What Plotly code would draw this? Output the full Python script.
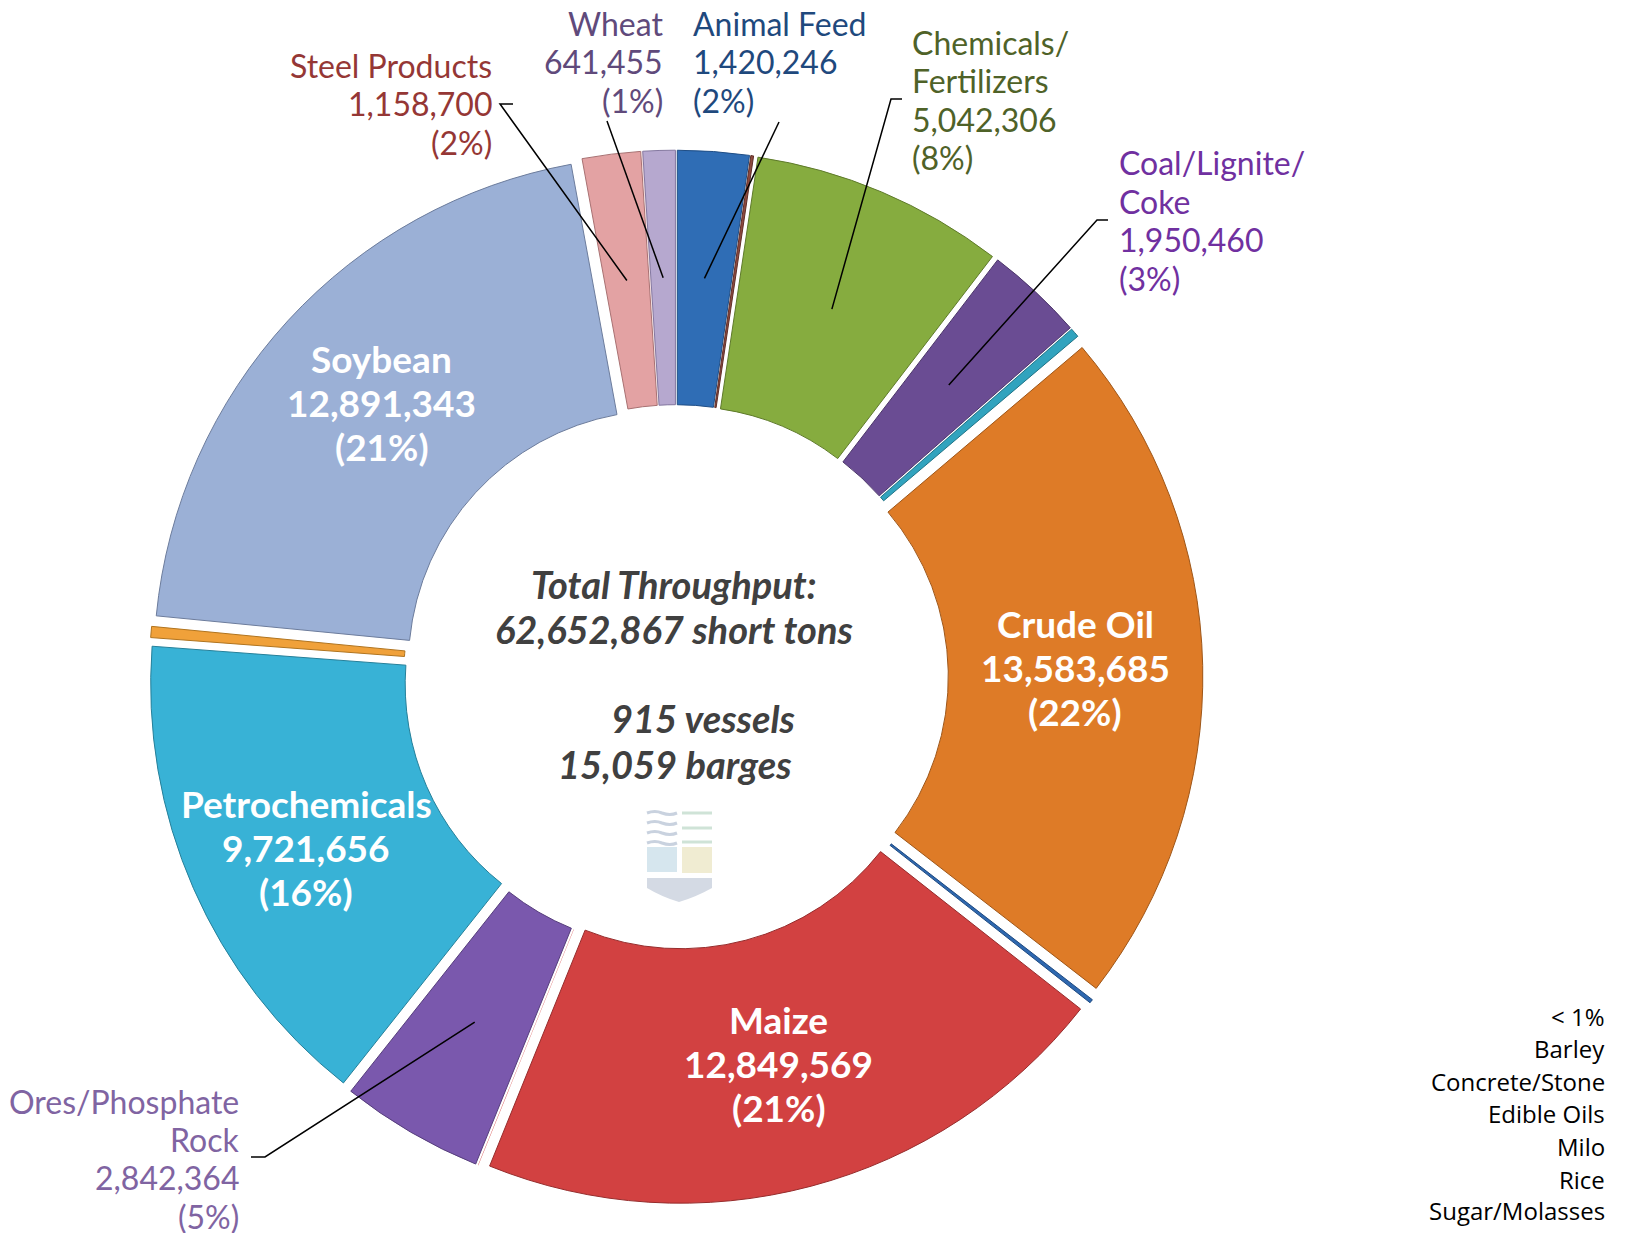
import math
import plotly.graph_objects as go

# ---------------- data ----------------
categories = ["Animal Feed", "Barley", "Chemicals/Fertilizers", "Coal/Lignite/Coke",
              "Concrete/Stone", "Crude Oil", "Edible Oils", "Maize", "Milo",
              "Ores/Phosphate Rock", "Petrochemicals", "Rice", "Soybean",
              "Steel Products", "Sugar/Molasses", "Wheat"]
values = [1420246, 55000, 5042306, 1950460, 185000, 13583685, 75000, 12849569, 8000,
          2842364, 9721656, 220083, 12891343, 1158700, 8000, 641455]
slice_colors = ["#2F6DB5", "#8E4A3F", "#86AC3F", "#6A4C93", "#31A3BE", "#DE7B27",
                "#2E68B0", "#D24141", "#D24141", "#7A58AD", "#38B2D6", "#F0A13A",
                "#9BB0D6", "#E3A2A3", "#E3A2A3", "#B6A8CF"]
border_colors = ["#1F4E86", "#5E2E28", "#5E7A2A", "#4A3468", "#1F7386", "#9E5618",
                 "#1F4A80", "#962C2C", "#962C2C", "#563E7C", "#26809A", "#B0741F",
                 "#6C7C9C", "#A87172", "#A87172", "#8478A0"]
border_widths = [1, 1, 1, 1, 1, 1, 1, 1, 0, 1, 1, 1, 1, 1, 0, 1]
inside_labels = ["Crude Oil", "Maize", "Petrochemicals", "Soybean"]
outside_labels = {
    "Steel Products": (["Steel Products"], "#953735"),
    "Wheat": (["Wheat"], "#604A7B"),
    "Animal Feed": (["Animal Feed"], "#1F497D"),
    "Chemicals/Fertilizers": (["Chemicals/", "Fertilizers"], "#4F6228"),
    "Coal/Lignite/Coke": (["Coal/Lignite/", "Coke"], "#7030A0"),
    "Ores/Phosphate Rock": (["Ores/Phosphate", "Rock"], "#8064A2"),
}
minor_list = ["< 1%", "Barley", "Concrete/Stone", "Edible Oils", "Milo", "Rice", "Sugar/Molasses"]
total_tons = 62652867
vessels = 915
barges = 15059

# ---------------- layout geometry (page pixels) ----------------
W, H = 1627, 1233
OFF = 8                      # page body margin offset
CX, CY = 676, 677
R = 509
PULL = 0.035
HOLE = 0.5
box = 2 * R * (1 + PULL)
dom_x = [(CX - OFF - box / 2) / W, (CX - OFF + box / 2) / W]
dom_y = [(H - (CY - OFF) - box / 2) / H, (H - (CY - OFF) + box / 2) / H]


def px(x, y):
    return (x - OFF) / W, 1 - (y - OFF) / H


def polar(angle_deg, rad):
    a = math.radians(angle_deg)
    return CX + rad * math.sin(a), CY - rad * math.cos(a)


tot = sum(values)
mid_angle = {}
acc = 0
for c, v in zip(categories, values):
    mid_angle[c] = (acc + v / 2) / tot * 360
    acc += v
label_r = R * PULL + R * (1 + HOLE) / 2

fig = go.Figure(go.Pie(
    labels=categories, values=values, sort=False, direction="clockwise", rotation=0,
    hole=HOLE, pull=[PULL] * len(values),
    marker=dict(colors=slice_colors, line=dict(color=border_colors, width=border_widths)),
    textinfo="none", hoverinfo="label+value+percent", showlegend=False,
    domain=dict(x=dom_x, y=dom_y),
))

annotations = []
shapes = []


def pct(c):
    return round(values[categories.index(c)] / total_tons * 100)


def val(c):
    return values[categories.index(c)]


def add_line(text, x, y, font, xanchor):
    xp, yp = px(x, y)
    annotations.append(dict(x=xp, y=yp, xref="paper", yref="paper", showarrow=False,
                            text=text, font=font, xanchor=xanchor, yanchor="middle"))


# inside labels (small placement nudges in px)
BIG_SP = 44
nudge = {"Petrochemicals": (-4, 10), "Soybean": (0, -4), "Crude Oil": (0, -1), "Maize": (0, 0)}
for c in inside_labels:
    x, y = polar(mid_angle[c], label_r)
    dx, dy = nudge[c]
    f = dict(family="Lato", size=37, color="white")
    for k, t in enumerate([c, f"{val(c):,}", f"({pct(c)}%)"]):
        add_line(f"<b>{t}</b>", x + dx, y + dy + (k - 1) * BIG_SP, f, "center")

# outside labels: (anchor x, first line y, xanchor, leader start points)
SP = 38.4
outside_pos = {
    "Steel Products": (494, 65.4, "right", [(513, 104), (500, 104)]),
    "Wheat": (665, 23.5, "right", [(607, 121)]),
    "Animal Feed": (691, 23.5, "left", [(779, 122)]),
    "Chemicals/Fertilizers": (910, 42.5, "left", [(902, 99), (891, 99)]),
    "Coal/Lignite/Coke": (1117, 162.9, "left", [(1108, 220), (1097, 220)]),
    "Ores/Phosphate Rock": (241, 1101, "right", [(251, 1157), (265, 1157)]),
}
for c, (name_lines, col) in outside_labels.items():
    ax, ay, xa, starts = outside_pos[c]
    f = dict(family="Lato", size=32, color=col)
    lines = name_lines + [f"{val(c):,}", f"({pct(c)}%)"]
    for k, t in enumerate(lines):
        add_line(t, ax, ay + k * SP, f, xa)
    ex, ey = polar(mid_angle[c], label_r)
    pts = starts + [(ex, ey)]
    path = ""
    for i, (qx, qy) in enumerate(pts):
        X, Y = px(qx, qy)
        path += ("M " if i == 0 else " L ") + f"{X:.5f},{Y:.5f}"
    shapes.append(dict(type="path", path=path, xref="paper", yref="paper",
                       line=dict(color="black", width=1.5)))

# centre text
cfont = dict(family="Lato", size=38, color="#404040")
for text, x, y in [
    ("Total Throughput:", 674, 584),
    (f"{total_tons:,} short tons", 674, 629),
    (f"{vessels} vessels", 703, 718),
    (f"{barges:,} barges", 675, 764),
]:
    add_line(f"<b><i>{text}</i></b>", x, y, cfont, "center")

# minor categories list
ys = [1016, 1048, 1081, 1113, 1146, 1179, 1210]
for t, y in zip(minor_list, ys):
    add_line(t.replace("<", "&lt;"), 1607, y,
             dict(family="Open Sans", size=24, color="black"), "right")


# faint logo watermark
def ppath(cmds):
    out = []
    for c in cmds:
        if isinstance(c, str):
            out.append(c)
        else:
            X, Y = px(*c)
            out.append(f"{X:.5f},{Y:.5f}")
    return " ".join(out)


for y in [813, 823, 833, 843]:
    shapes.append(dict(type="path", xref="paper", yref="paper",
                       path=ppath(["M", (647, y), "Q", (655, y - 3), (662, y), "Q", (670, y + 3), (677, y)]),
                       line=dict(color="#C9D2DF", width=3)))
for y in [813, 828, 842]:
    shapes.append(dict(type="path", xref="paper", yref="paper",
                       path=ppath(["M", (682, y), "L", (712, y)]),
                       line=dict(color="#CFE3D7", width=3)))
shapes.append(dict(type="path", xref="paper", yref="paper",
                   path=ppath(["M", (647, 847), "L", (677, 847), "L", (677, 872), "L", (647, 872), "Z"]),
                   fillcolor="#D6E6EE", line=dict(width=0)))
shapes.append(dict(type="path", xref="paper", yref="paper",
                   path=ppath(["M", (682, 847), "L", (712, 847), "L", (712, 873), "L", (682, 873), "Z"]),
                   fillcolor="#F0ECD2", line=dict(width=0)))
shapes.append(dict(type="path", xref="paper", yref="paper",
                   path=ppath(["M", (647, 878), "L", (712, 878), "L", (712, 888), "Q", (696, 897), (679, 902),
                               "Q", (662, 897), (647, 888), "Z"]),
                   fillcolor="#D4DAE4", line=dict(width=0)))

fig.update_layout(
    width=W, height=H, margin=dict(l=0, r=0, t=0, b=0),
    paper_bgcolor="white", plot_bgcolor="white",
    annotations=annotations, shapes=shapes, showlegend=False,
)
fig.write_html("out.html")
